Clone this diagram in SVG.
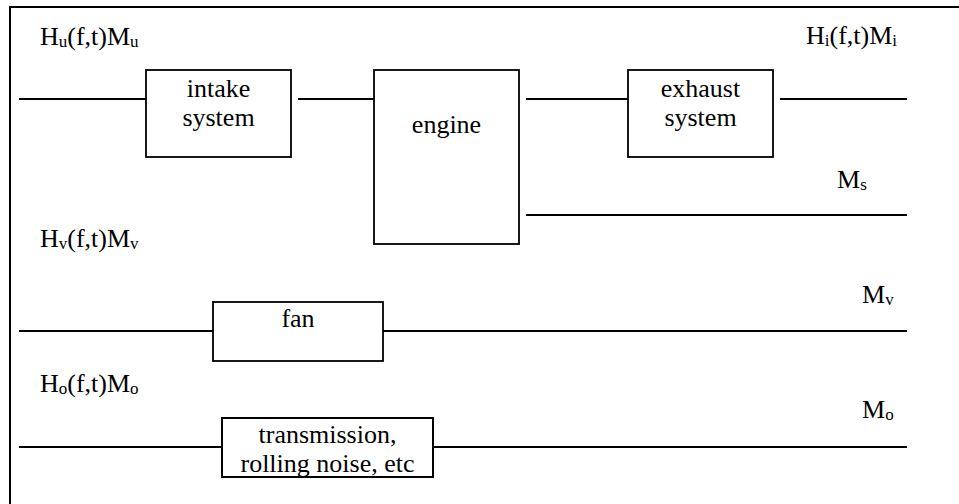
<svg xmlns="http://www.w3.org/2000/svg" width="959" height="504" viewBox="0 0 959 504" font-family="'Liberation Serif', 'Times New Roman', serif" font-size="26">
  <style>
    .frame { fill: none; stroke: #000; stroke-width: 2; }
    .box { fill: #fff; stroke: #000; stroke-width: 1.8; }
    .outline { fill: none; stroke: #000; stroke-width: 1.8; }
    .wire { fill: none; stroke: #000; stroke-width: 1.8; }
    .t { font-family: 'Liberation Serif', 'Times New Roman', serif; font-size: 26px; fill: #000; }
    .mid { text-anchor: middle; }
    .sub { font-size: 17px; }
  </style>
  <defs>
    <clipPath id="clip-trans">
      <rect x="222" y="418" width="211" height="59"/>
    </clipPath>
  </defs>
  <rect width="959" height="504" fill="#fff"/>

  <!-- outer frame: top and left edges -->
  <path class="frame" d="M10,504 V7 H959"/>

  <!-- signal lines -->
  <g id="connectors">
    <line class="wire" x1="19" y1="99" x2="146" y2="99"/>
    <line class="wire" x1="298" y1="99" x2="374" y2="99"/>
    <line class="wire" x1="526" y1="99" x2="628" y2="99"/>
    <line class="wire" x1="780" y1="99" x2="907" y2="99"/>
    <line class="wire" x1="526" y1="215" x2="907" y2="215"/>
    <line class="wire" x1="19" y1="331" x2="213" y2="331"/>
    <line class="wire" x1="383" y1="331" x2="907" y2="331"/>
    <line class="wire" x1="19" y1="447" x2="222" y2="447"/>
    <line class="wire" x1="433" y1="447" x2="907" y2="447"/>
  </g>

  <g id="intake">
    <rect class="box" x="146" y="70" width="145" height="87"/>
    <text class="t mid" x="218.5" y="97">intake</text>
    <text class="t mid" x="218.5" y="126">system</text>
  </g>

  <g id="engine">
    <rect class="box" x="374" y="70" width="145" height="174"/>
    <text class="t mid" x="446.5" y="133">engine</text>
  </g>

  <g id="exhaust">
    <rect class="box" x="628" y="70" width="145" height="87"/>
    <text class="t mid" x="700.5" y="97">exhaust</text>
    <text class="t mid" x="700.5" y="126">system</text>
  </g>

  <g id="fan">
    <rect class="box" x="213" y="302" width="170" height="59"/>
    <text class="t mid" x="298" y="327">fan</text>
  </g>

  <g id="transmission">
    <rect class="box" x="222" y="418" width="211" height="59"/>
    <g clip-path="url(#clip-trans)">
      <text class="t mid" x="327.5" y="443">transmission,</text>
      <text class="t mid" x="327.5" y="472">rolling noise, etc</text>
    </g>
    <rect class="outline" x="222" y="418" width="211" height="59"/>
  </g>

  <!-- transfer function labels -->
  <g id="labels">
    <text class="t" x="40" y="45">H<tspan class="sub" dy="2">u</tspan><tspan dy="-2">(f,t)M</tspan><tspan class="sub" dy="2">u</tspan></text>
    <text class="t" x="806" y="44">H<tspan class="sub" dy="2">i</tspan><tspan dy="-2">(f,t)M</tspan><tspan class="sub" dy="2">i</tspan></text>
    <text class="t" x="837" y="188">M<tspan class="sub" dy="2">s</tspan></text>
    <text class="t" x="40" y="247">H<tspan class="sub" dy="2">v</tspan><tspan dy="-2">(f,t)M</tspan><tspan class="sub" dy="2">v</tspan></text>
    <text class="t" x="862" y="303">M<tspan class="sub" dy="2">v</tspan></text>
    <text class="t" x="40" y="392">H<tspan class="sub" dy="2">o</tspan><tspan dy="-2">(f,t)M</tspan><tspan class="sub" dy="2">o</tspan></text>
    <text class="t" x="862" y="418">M<tspan class="sub" dy="2">o</tspan></text>
  </g>
</svg>
